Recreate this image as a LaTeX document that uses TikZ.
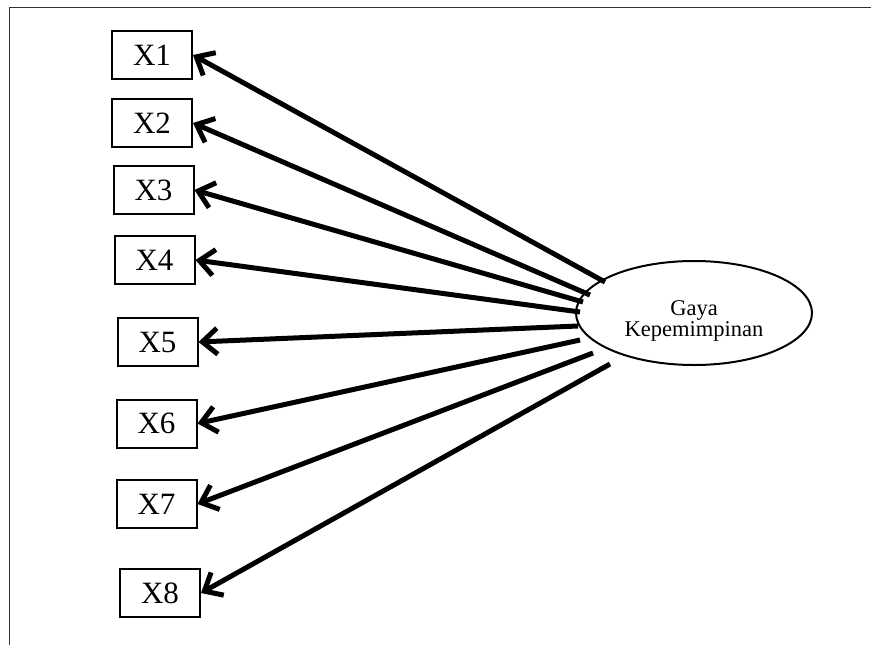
\documentclass[tikz,border=0pt]{standalone}
\usepackage{fontspec}
\setmainfont{Liberation Serif}
\usetikzlibrary{arrows.meta,shapes.geometric}
\begin{document}
\begin{tikzpicture}[x=1pt,y=-1pt,
  box/.style={draw, line width=2pt, minimum width=80pt, minimum height=48pt, inner sep=0pt, font=\fontsize{31}{33}\selectfont},
  latent/.style={draw, ellipse, line width=2pt, minimum width=236pt, minimum height=104pt, inner sep=0pt},
  latenttext/.style={align=center, inner sep=0pt, yshift=-8pt, font=\fontsize{22.5}{19}\selectfont},
  conn/.style={line width=5pt, -{Straight Barb[length=15pt,width=26pt,line width=5pt]}},
  frame/.style={draw=black!80, line width=1pt}]
\useasboundingbox (0,0) rectangle (875,645);
\draw[frame] (9,645) -- (9,7) -- (871,7);
\node[box] (x1) at (152,55) {X1};
\node[box] (x2) at (152,123) {X2};
\node[box] (x3) at (153.5,190) {X3};
\node[box] (x4) at (154.5,260) {X4};
\node[box] (x5) at (157.5,342) {X5};
\node[box] (x6) at (156.5,423.5) {X6};
\node[box] (x7) at (156.5,504) {X7};
\node[box] (x8) at (160,593) {X8};
\node[latent, label={[latenttext]center:Gaya\\Kepemimpinan}] (g) at (694,313) {};
\coordinate (s1) at (605,282);
\coordinate (s2) at (590,295);
\coordinate (s3) at (583,302);
\coordinate (s4) at (580,312);
\coordinate (s5) at (578,326);
\coordinate (s6) at (580,340);
\coordinate (s7) at (593,353);
\coordinate (s8) at (610,364);
\foreach \i in {1,...,8} \draw[conn] (s\i) -- (x\i.east);
\end{tikzpicture}
\end{document}
